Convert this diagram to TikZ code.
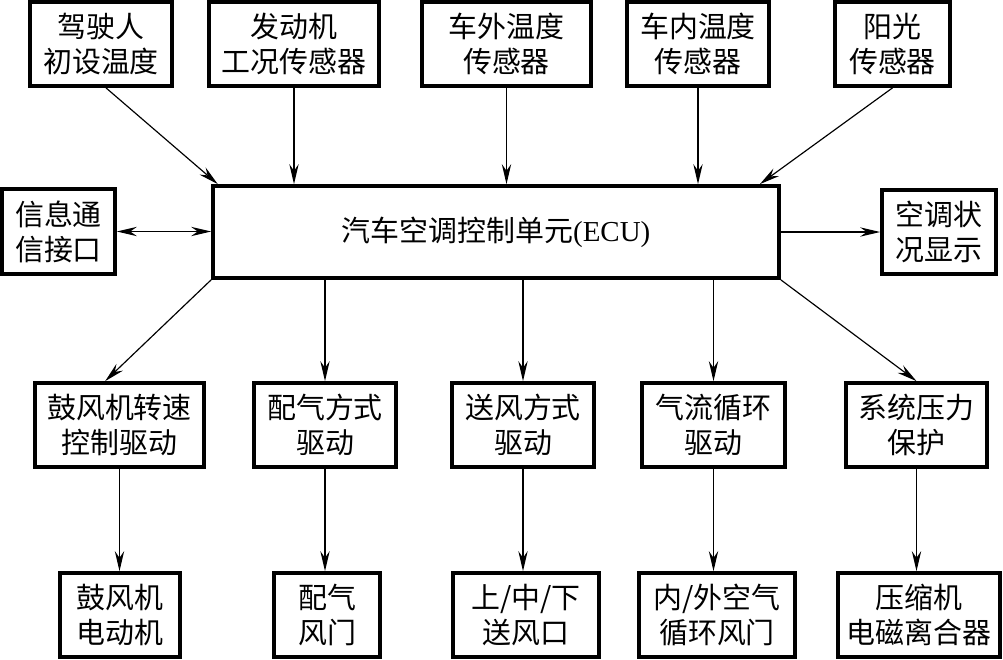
\documentclass[tikz,border=0pt]{standalone}
\usepackage{fontspec}
\setmainfont{Liberation Serif}
\newfontfamily\cjk{Noto Sans CJK SC}
\usepackage{tikz}
\usetikzlibrary{arrows.meta}

\begin{document}
\begin{tikzpicture}[x = 0.03cm, y = -0.03cm,
                    >={Stealth[length = 0.6cm, width = 0.28cm, inset = 0.2cm]},
                    line width = 1pt,
                    box/.style = {rectangle,
                                  draw,
                                  black,
                                  line width = 3.2pt,
                                  inner sep = 0pt,
                                  align = center,
                                  minimum height = 2.52cm,
                                  font = \cjk\fontsize{24.7pt}{29.8pt}\selectfont}]

\useasboundingbox (0,0) rectangle (1003,659);

% sensors and inputs
\node[box, minimum width = 4.26cm] (driver) at (101,44) {驾驶人\\初设温度};
\node[box, minimum width = 5.10cm] (engine) at (294,44) {发动机\\工况传感器};
\node[box, minimum width = 5.07cm] (outside) at (506.5,44) {车外温度\\传感器};
\node[box, minimum width = 4.26cm] (inside) at (698,44) {车内温度\\传感器};
\node[box, minimum width = 3.45cm] (sun) at (892.5,44) {阳光\\传感器};

% control unit
\node[box, minimum width = 16.98cm, minimum height = 2.76cm] (ecu) at (496,232)
     {汽车空调控制单元{\rmfamily(ECU)}};
\node[box, minimum width = 3.39cm, minimum height = 2.55cm] (info) at (58.5,231.5) {信息通\\信接口};
\node[box, minimum width = 3.42cm] (display) at (939,232) {空调状\\况显示};

% drivers
\node[box, minimum width = 5.07cm] (blower) at (119.5,425) {鼓风机转速\\控制驱动};
\node[box, minimum width = 4.26cm] (mix) at (325,425) {配气方式\\驱动};
\node[box, minimum width = 4.26cm] (mode) at (523,425) {送风方式\\驱动};
\node[box, minimum width = 4.29cm] (recirc) at (713.5,425) {气流循环\\驱动};
\node[box, minimum width = 4.23cm] (pressure) at (916.5,425) {系统压力\\保护};

% actuators
\node[box, minimum width = 3.60cm] (motor) at (120,615) {鼓风机\\电动机};
\node[box, minimum width = 3.18cm] (door) at (327,615) {配气\\风门};
\node[box, minimum width = 4.38cm] (vents) at (526,615) {上/中/下\\送风口};
\node[box, minimum width = 4.68cm] (flap) at (717,615) {内/外空气\\循环风门};
\node[box, minimum width = 4.86cm] (clutch) at (919,615) {压缩机\\电磁离合器};

\draw[->] ([xshift = 0.15cm]driver.south) -- ([xshift = 0.2cm]ecu.north west);
\draw[->] (engine.south) -- (engine.south |- ecu.north);
\draw[->] (outside.south) -- (outside.south |- ecu.north);
\draw[->] (inside.south) -- (inside.south |- ecu.north);
\draw[->] (sun.south) -- ([xshift = -0.63cm]ecu.north east);

\draw[<->] (info.east) -- (ecu.west |- info.east);
\draw[->] (ecu.east) -- (display.west);

\draw[->] (ecu.south west) -- ([xshift = -0.43cm]blower.north);
\draw[->] (mix.north |- ecu.south) -- (mix.north);
\draw[->] (mode.north |- ecu.south) -- (mode.north);
\draw[->] (recirc.north |- ecu.south) -- (recirc.north);
\draw[->] (ecu.south east) -- (pressure.north);

\draw[->] (blower.south) -- (blower.south |- motor.north);
\draw[->] (mix.south) -- (mix.south |- door.north);
\draw[->] (mode.south) -- (mode.south |- vents.north);
\draw[->] (recirc.south) -- (recirc.south |- flap.north);
\draw[->] (pressure.south) -- (pressure.south |- clutch.north);

\end{tikzpicture}
\end{document}
